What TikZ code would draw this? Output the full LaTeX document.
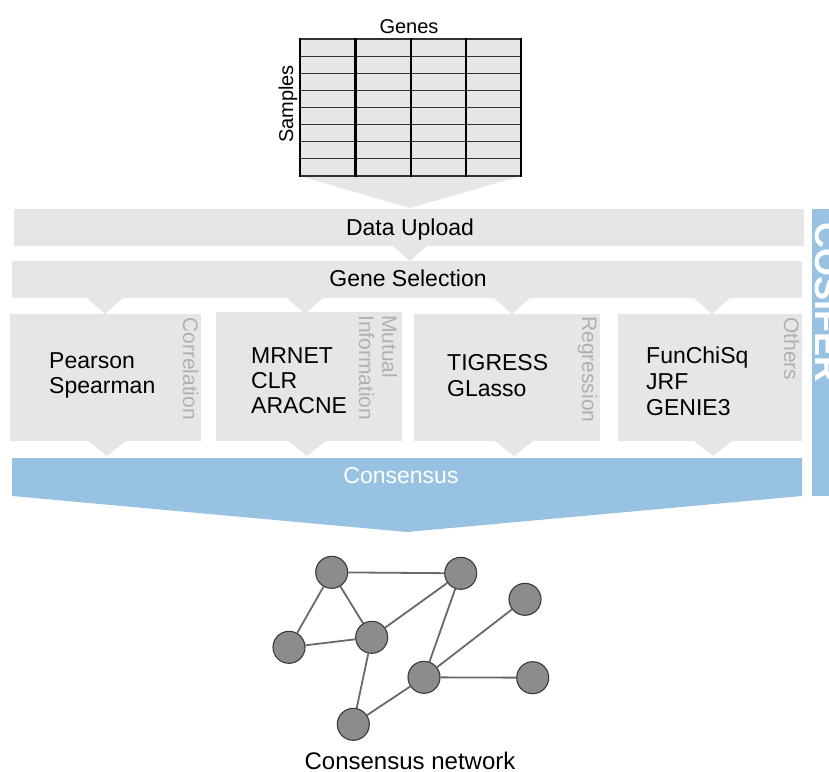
\documentclass[tikz,border=0pt]{standalone}
\usepackage{fontspec}
\setmainfont{Liberation Sans}
\definecolor{boxgray}{RGB}{230,230,230}
\definecolor{cblue}{RGB}{151,194,226}
\definecolor{labgray}{RGB}{176,176,176}
\definecolor{nodefill}{RGB}{140,140,140}
\definecolor{nodeedge}{RGB}{65,55,55}
\definecolor{edgegray}{RGB}{105,105,105}
\tikzset{
  maintext/.style={font=\fontsize{23}{27}\selectfont, inner sep=0pt, text=black},
  cattext/.style={font=\fontsize{21}{25}\selectfont, inner sep=0pt, text=labgray, rotate=-90, anchor=base west},
  axistext/.style={font=\fontsize{20}{24}\selectfont, inner sep=0pt, text=black},
  hline/.style={line width=1.1pt, draw=black!80},
  vline/.style={line width=2.4pt, draw=black},
  netnode/.style={circle, minimum size=32pt, inner sep=0pt, fill=nodefill, draw=nodeedge, line width=1.1pt},
  netedge/.style={draw=edgegray, line width=1.8pt},
}
\begin{document}
\begin{tikzpicture}[x=1pt,y=-1pt]
\useasboundingbox (0,0) rectangle (829,771);
\fill[white] (0,0) rectangle (829,771);

% data table
\fill[boxgray] (300,39) rectangle (521,176);
\fill[boxgray] (300,176) -- (521,176) -- (410,208) -- cycle;
\foreach \r in {0,...,8} \draw[hline] (300,39+17.125*\r) -- (521,39+17.125*\r);
\foreach \c in {300,355.5,410.75,466,521} \draw[vline] (\c,38) -- (\c,177);
\node[axistext, anchor=base] (genes) at (409,33) {Genes};
\node[axistext, rotate=90, anchor=base west] (samples) at (293,143) {Samples};

% pipeline bars
\fill[boxgray] (14,209) rectangle (804,246);
\node[maintext, anchor=base] (upload) at (410,235) {Data Upload};
\fill[boxgray] (393,246) -- (427,246) -- (410,261) -- cycle;
\fill[boxgray] (12,261) rectangle (802,298);
\node[maintext, anchor=base] (selection) at (408,286) {Gene Selection};
\foreach \x in {105,305,512,712} \fill[boxgray] (\x-18,298) -- (\x+18,298) -- (\x,314) -- cycle;

% method boxes
\fill[boxgray] (10,314) rectangle (201,441);
\fill[boxgray] (216,312) rectangle (402,441);
\fill[boxgray] (414,314) rectangle (600,441);
\fill[boxgray] (618,314) rectangle (802,441);
\foreach \x in {107,307,514,713} \fill[boxgray] (\x-19,441) -- (\x+19,441) -- (\x,456) -- cycle;

\node[maintext, anchor=base west] (pearson) at (49,368) {Pearson};
\node[maintext, anchor=base west] (spearman) at (49,393) {Spearman};
\node[maintext, anchor=base west] (mrnet) at (251,363) {MRNET};
\node[maintext, anchor=base west] (clr) at (251,388) {CLR};
\node[maintext, anchor=base west] (aracne) at (251,413) {ARACNE};
\node[maintext, anchor=base west] (tigress) at (447,370) {TIGRESS};
\node[maintext, anchor=base west] (glasso) at (447,396) {GLasso};
\node[maintext, anchor=base west] (funchisq) at (646,363) {FunChiSq};
\node[maintext, anchor=base west] (jrf) at (646,389) {JRF};
\node[maintext, anchor=base west] (genie) at (646,415) {GENIE3};

\node[cattext] (corr) at (183,317) {Correlation};
\node[cattext] (mutual) at (382,315) {Mutual};
\node[cattext] (info) at (359,315) {Information};
\node[cattext] (regr) at (582,316) {Regression};
\node[cattext] (others) at (784,317) {Others};

% consensus
\fill[cblue] (12,458) -- (802,458) -- (802,496) -- (407,532) -- (12,496) -- cycle;
\node[maintext, anchor=base, text=white] (consensus) at (401,483) {Consensus};

% COSIFER side bar (cut off at the right edge, as in the reference)
\begin{scope}
\clip (0,0) rectangle (829,771);
\fill[cblue] (812,209) rectangle (850,496);
\node[font=\fontsize{36}{40}\selectfont\bfseries, inner sep=0pt, text=white, rotate=-90, anchor=base west] (cosifer) at (815,222) {COSIFER};
\end{scope}

% network
\node[netnode] (A) at (331.7,572.3) {};
\node[netnode] (B) at (460.7,573.3) {};
\node[netnode] (C) at (525,599.3) {};
\node[netnode] (D) at (289,647.3) {};
\node[netnode] (E) at (371.7,637.3) {};
\node[netnode] (F) at (424,677.3) {};
\node[netnode] (G) at (532.7,677.7) {};
\node[netnode] (H) at (353.3,724.3) {};
\draw[netedge] (A) -- (B);
\draw[netedge] (A) -- (D);
\draw[netedge] (A) -- (E);
\draw[netedge] (D) -- (E);
\draw[netedge] (E) -- (B);
\draw[netedge] (E) -- (H);
\draw[netedge] (B) -- (F);
\draw[netedge] (C) -- (F);
\draw[netedge] (F) -- (G);
\draw[netedge] (F) -- (H);
\node[font=\fontsize{24}{28}\selectfont, inner sep=0pt, anchor=base] (netlabel) at (410,769) {Consensus network};
\end{tikzpicture}
\end{document}
